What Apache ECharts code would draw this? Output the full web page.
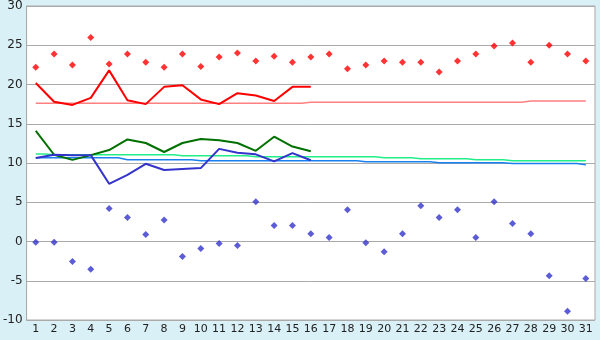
<!DOCTYPE html>
<html>
<head>
<meta charset="utf-8">
<script src="https://cdn.jsdelivr.net/npm/echarts@6/dist/echarts.min.js"></script>
<style>
  html, body { margin: 0; padding: 0; background: #d9f0f7; }
  #chart { width: 600px; height: 340px; }
</style>
</head>
<body>
<div id="chart"></div>
<script>
// days of month
const days = Array.from({ length: 31 }, (_, i) => String(i + 1));

// daily max / min (diamonds)
const maxTemps = [22.2, 23.9, 22.5, 26.0, 22.6, 23.9, 22.85, 22.2, 23.9, 22.3,
  23.5, 24.0, 23.0, 23.6, 22.85, 23.5, 23.9, 22.0, 22.5, 23.0,
  22.85, 22.85, 21.6, 23.0, 23.9, 24.9, 25.3, 22.85, 25.0, 23.9, 23.0];
const minTemps = [-0.1, -0.1, -2.55, -3.55, 4.2, 3.05, 0.9, 2.75, -1.9, -0.9,
  -0.25, -0.5, 5.05, 2.05, 2.05, 1.0, 0.5, 4.05, -0.15, -1.3,
  1.0, 4.55, 3.05, 4.05, 0.5, 5.05, 2.3, 1.0, -4.35, -8.9, -4.7];

// lines for days 1-16
const redLine = [20.2, 17.8, 17.4, 18.3, 21.8, 18.0, 17.5, 19.7, 19.9, 18.1,
  17.5, 18.9, 18.6, 17.9, 19.7, 19.7];
const greenLine = [14.1, 11.05, 10.4, 11.0, 11.65, 13.0, 12.55, 11.4, 12.55, 13.05,
  12.9, 12.55, 11.55, 13.35, 12.1, 11.5];
const blueLine = [10.65, 11.05, 11.0, 11.0, 7.35, 8.5, 9.9, 9.1, 9.25, 9.35,
  11.8, 11.3, 11.1, 10.2, 11.25, 10.35];

// normals
const redNormal = [17.6, 17.6, 17.6, 17.6, 17.6, 17.6, 17.6, 17.6, 17.6, 17.6,
  17.6, 17.6, 17.6, 17.6, 17.6, 17.75, 17.75, 17.75, 17.75, 17.75,
  17.75, 17.75, 17.75, 17.75, 17.75, 17.75, 17.75, 17.9, 17.9, 17.9, 17.9];
const greenNormal = [11.16, 11.04, 11.04, 11.04, 11.04, 11.04, 11.04, 11.04, 10.92, 10.92,
  10.92, 10.92, 10.79, 10.79, 10.79, 10.79, 10.79, 10.79, 10.79, 10.66,
  10.66, 10.53, 10.53, 10.53, 10.41, 10.41, 10.28, 10.28, 10.28, 10.28, 10.28];
const blueNormal = [10.66, 10.66, 10.66, 10.66, 10.66, 10.41, 10.41, 10.41, 10.41, 10.28,
  10.28, 10.28, 10.28, 10.28, 10.28, 10.28, 10.28, 10.28, 10.15, 10.15,
  10.15, 10.15, 10.03, 10.03, 10.03, 10.03, 9.93, 9.93, 9.93, 9.93, 9.77];

const chart = echarts.init(document.getElementById('chart'), null, { renderer: 'canvas' });

const lineSeries = (data, color, width, step) => ({
  type: 'line',
  data: data,
  step: step || false,
  symbol: 'none',
  connectNulls: false,
  animation: false,
  lineStyle: { color: color, width: width },
  z: step ? 2 : 3,
});

const dotSeries = (data, color) => ({
  type: 'scatter',
  data: data,
  symbol: 'diamond',
  symbolSize: 7,
  itemStyle: { color: color },
  animation: false,
  z: 4,
});

const option = {
  backgroundColor: '#d9f0f7',
  animation: false,
  grid: {
    left: 26,
    right: 5,
    top: 5,
    bottom: 20,
    show: true,
    backgroundColor: '#ffffff',
    borderColor: '#aaaaaa',
    borderWidth: 1,
  },
  xAxis: {
    type: 'category',
    data: days,
    boundaryGap: true,
    axisLine: { lineStyle: { color: '#aaaaaa' } },
    axisTick: { alignWithLabel: true, length: 5, lineStyle: { color: '#222222' } },
    axisLabel: { color: '#222222', fontFamily: 'DejaVu Sans', fontSize: 11, margin: 4, interval: 0 },
    splitLine: { show: false },
  },
  yAxis: {
    type: 'value',
    min: -10,
    max: 30,
    interval: 5,
    axisLine: { show: true, lineStyle: { color: '#aaaaaa' } },
    axisTick: { show: false },
    axisLabel: { color: '#222222', fontFamily: 'DejaVu Sans', fontSize: 12, margin: 4 },
    splitLine: { lineStyle: { color: '#aaaaaa' } },
  },
  series: [
    lineSeries(redNormal, '#ff8080', 1.5, 'middle'),
    lineSeries(greenNormal, '#22ee88', 1.5, 'middle'),
    lineSeries(blueNormal, '#1a80f0', 1.5, 'middle'),
    lineSeries(redLine, '#ff0000', 2),
    lineSeries(greenLine, '#007000', 2),
    lineSeries(blueLine, '#3333cc', 2),
    dotSeries(maxTemps, '#ff0000'),
    dotSeries(minTemps, '#3333cc'),
  ],
};

chart.setOption(option);
</script>
</body>
</html>
